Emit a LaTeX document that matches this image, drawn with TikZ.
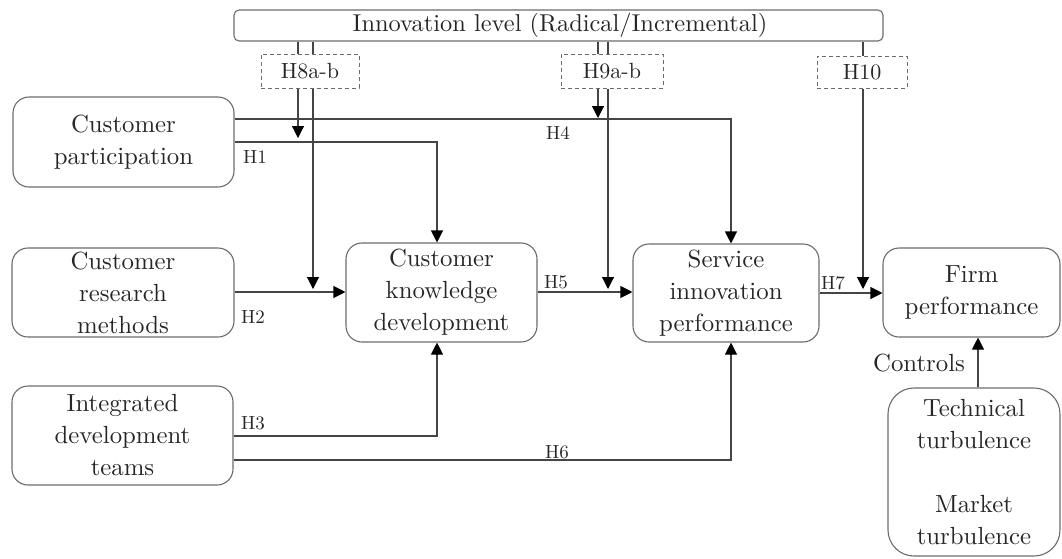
\documentclass[tikz,border=0pt]{standalone}
\usepackage{fontspec}
\setmainfont{lmroman10-regular}[Extension=.otf]
\usetikzlibrary{arrows.meta,calc}
\definecolor{edgegray}{gray}{0.42}
\definecolor{linegray}{gray}{0.27}
\definecolor{txtgray}{gray}{0.15}
\tikzset{
  mainbox/.style={draw=edgegray, line width=1.1pt, rounded corners=16pt, align=center,
    text=txtgray, font=\fontsize{24.8}{32}\selectfont, inner sep=0pt},
  topbox/.style={draw=edgegray, line width=1.1pt, rounded corners=5pt, align=center,
    text=txtgray, inner sep=0pt},
  dashbox/.style={draw=edgegray, line width=1pt, dash pattern=on 4pt off 3pt, align=center,
    text=txtgray, font=\fontsize{22}{26}\selectfont, inner sep=0pt},
  hlabel/.style={text=txtgray, font=\fontsize{19}{22}\selectfont, inner sep=0pt},
  conn/.style={draw=linegray, line width=1.1pt},
  arr/.style={conn, -{Triangle[length=12pt,width=12pt,color=black,fill=black]}},
}
\begin{document}
\begin{tikzpicture}[x=1pt,y=-1pt]
\path[use as bounding box] (0,0) rectangle (1062,558);

% nodes
\node[topbox, minimum width=649pt, minimum height=31pt] (top) at (558.5,25.5) {};
\node[text=txtgray, font=\fontsize{24.4}{32}\selectfont] (toptext) at (560,25.5) {Innovation level (Radical/Incremental)};

\node[dashbox, minimum width=98pt, minimum height=34pt] (h8) at (310,71) {H8a-b};
\node[dashbox, minimum width=102pt, minimum height=34pt] (h9) at (612,71) {H9a-b};
\node[dashbox, minimum width=90pt, minimum height=32pt] (h10) at (862,72) {H10};

\node[mainbox, minimum width=221pt, minimum height=90pt] (cp) at (123.5,142) {Customer\\participation};
\node[mainbox, minimum width=222pt, minimum height=89pt] (crm) at (123,292.5) {Customer\\research\\methods};
\node[mainbox, minimum width=221pt, minimum height=99pt] (idt) at (122.5,435.5) {Integrated\\development\\teams};
\node[mainbox, minimum width=191pt, minimum height=99pt] (ckd) at (441.5,292.5) {Customer\\knowledge\\development};
\node[mainbox, minimum width=186pt, minimum height=98pt] (sip) at (726,293) {Service\\innovation\\performance};
\node[mainbox, minimum width=177pt, minimum height=89pt] (fp) at (971.5,292.5) {Firm\\performance};
\node[mainbox, rounded corners=26pt, minimum width=172pt, minimum height=168pt] (tt) at (974,472) {Technical\\turbulence\\[32pt]Market\\turbulence};

% helper coordinates
\coordinate (yH4) at (0,119);
\coordinate (yH1) at (0,142);
\coordinate (yH2) at (0,292);
\coordinate (yH7) at (0,293);
\coordinate (yH3) at (0,436);
\coordinate (yH6) at (0,460);
\coordinate (xA) at (437,0);
\coordinate (xB) at (731,0);
\coordinate (x8a) at (298,0);
\coordinate (x8b) at (313,0);
\coordinate (x9a) at (598,0);
\coordinate (x9b) at (608,0);
\coordinate (x10) at (863,0);
\coordinate (xC) at (978,0);
\coordinate (t8a) at (298,138);
\coordinate (t8b) at (313,289);
\coordinate (t9a) at (598,118);
\coordinate (t9b) at (608,289);
\coordinate (t10) at (863,289);

% main paths
\draw[arr] (cp.east |- yH4) -| (sip.north -| xB);
\draw[arr] (cp.east |- yH1) -| (ckd.north -| xA);
\draw[arr] (crm.east |- yH2) -- (ckd.west |- yH2);
\draw[arr] (ckd.east |- yH2) -- (sip.west |- yH2);
\draw[arr] (sip.east |- yH7) -- (fp.west |- yH7);
\draw[arr] (idt.east |- yH3) -| (ckd.south -| xA);
\draw[arr] (idt.east |- yH6) -| (sip.south -| xB);
\draw[arr] (tt.north -| xC) -- (fp.south -| xC);

% moderators
\draw[conn] (top.south -| x8a) -- (h8.north -| x8a);
\draw[conn] (top.south -| x8b) -- (h8.north -| x8b);
\draw[arr] (h8.south -| x8a) -- (t8a);
\draw[arr] (h8.south -| x8b) -- (t8b);
\draw[conn] (top.south -| x9a) -- (h9.north -| x9a);
\draw[conn] (top.south -| x9b) -- (h9.north -| x9b);
\draw[arr] (h9.south -| x9a) -- (t9a);
\draw[arr] (h9.south -| x9b) -- (t9b);
\draw[conn] (top.south -| x10) -- (h10.north -| x10);
\draw[arr] (h10.south -| x10) -- (t10);

% labels
\node[hlabel] (l1) at (255,157) {H1};
\node[hlabel] (l4) at (558,133) {H4};
\node[hlabel] (l2) at (253,317) {H2};
\node[hlabel] (l5) at (556,282) {H5};
\node[hlabel] (l3) at (253,423) {H3};
\node[hlabel] (l6) at (557,452) {H6};
\node[hlabel] (l7) at (833,283) {H7};
\node[text=txtgray, font=\fontsize{24.8}{32}\selectfont, inner sep=0pt] (ctl) at (919,363) {Controls};
\end{tikzpicture}
\end{document}
